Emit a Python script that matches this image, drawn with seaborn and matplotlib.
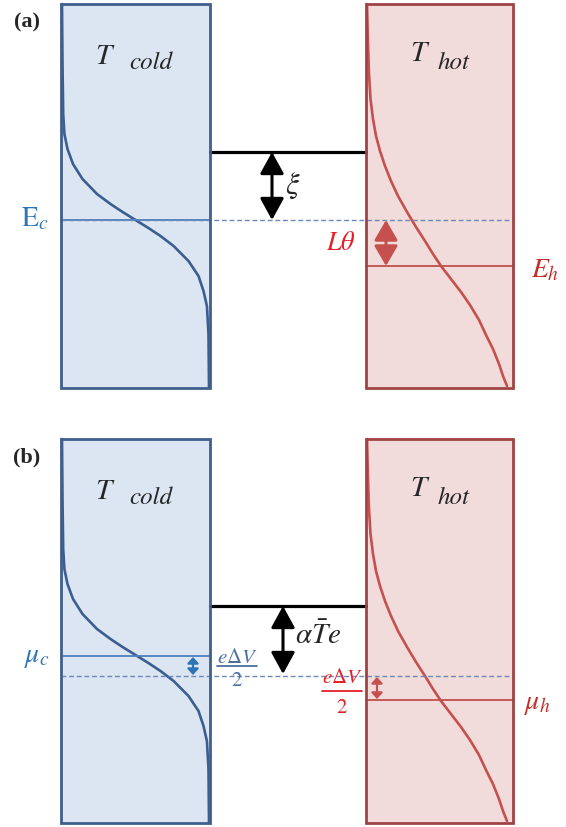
import numpy as np
import matplotlib
matplotlib.use("Agg")
import matplotlib.pyplot as plt
import seaborn as sns
from matplotlib.patches import Rectangle, FancyArrowPatch

sns.set_theme(style="white")
plt.rcParams['mathtext.fontset'] = 'stix'

# colours
COLD_FILL = '#DCE6F2'
COLD_EDGE = '#3F5F8C'
COLD_CURVE = '#3B5D90'
COLD_LINE = '#4A7FC0'
COLD_TEXT = '#2E75B6'
HOT_FILL = '#F2DCDB'
HOT_EDGE = '#A04443'
HOT_CURVE = '#C5504E'
HOT_LINE = '#C0504D'
HOT_TEXT = '#C0302B'
RED_TEXT = '#E4202A'
DASH_COL = '#6C87BC'

# geometry of the two panels (pixel units of the 566x828 picture)
panel_labels = ['(a)', '(b)']
panel_top = [5, 440]
box_height = 384
cold_x = [61, 210]
hot_x = [366, 513]
black_level = [153, 607]
cold_level = [221, 657]
dash_level = [221, 677]
hot_level = [267, 701]

# occupation curves (offset from box left, offset from box top)
cold_curve_dx = [1, 1.5, 2.2, 3.4, 6.5, 12, 21.5, 36, 49.5, 61.6, 74.5,
                 87.4, 99.5, 112.6, 127.5, 137.5, 142.5, 145.9, 147.5, 148]
cold_curve_dy = [0, 60, 110, 130, 145, 160, 175, 190, 200, 208, 216,
                 224, 232, 242, 257, 272, 287, 302, 330, 383]
hot_curve_dx = [1, 2, 3, 4.5, 7, 10, 14, 19, 25, 32, 41, 50, 59, 67, 75,
                85, 95, 104, 113, 120, 127, 133, 137, 141]
hot_curve_dy = [0, 40, 70, 95, 115, 132, 147, 162, 177, 192, 208, 223, 237, 250, 262,
                275, 288, 301, 316, 331, 345, 360, 372, 382]

fig = plt.figure(figsize=(5.66, 8.28), dpi=100)
ax = fig.add_axes([0, 0, 1, 1])
ax.set_xlim(0, 566)
ax.set_ylim(828, 0)
ax.axis('off')


def double_arrow(x, y0, y1, color, hl, hw, lw, scale):
    arr = FancyArrowPatch((x, y0), (x, y1),
                          arrowstyle=f'<|-|>,head_length={hl},head_width={hw}',
                          mutation_scale=scale, color=color, lw=lw,
                          shrinkA=0, shrinkB=0, zorder=6)
    ax.add_patch(arr)


def fraction(xc, y_num, y_bar, y_den, half, color):
    ax.text(xc, y_num, r'$e\Delta V$', fontsize=15, color=color, ha='center', va='center', zorder=7)
    ax.plot([xc - half, xc + half], [y_bar] * 2, color=color, lw=1.3, zorder=7)
    ax.text(xc, y_den, r'$2$', fontsize=15, color=color, ha='center', va='center', zorder=7)


for i in range(2):
    top = panel_top[i]

    # reservoirs
    ax.add_patch(Rectangle((cold_x[0], top), cold_x[1] - cold_x[0], box_height,
                           facecolor=COLD_FILL, edgecolor='none', zorder=1))
    ax.add_patch(Rectangle((hot_x[0], top), hot_x[1] - hot_x[0], box_height,
                           facecolor=HOT_FILL, edgecolor='none', zorder=1))

    # Fermi functions
    sns.lineplot(x=np.array(cold_curve_dx) + cold_x[0], y=np.array(cold_curve_dy) + top,
                 sort=False, estimator=None, color=COLD_CURVE, lw=1.9, ax=ax, zorder=3)
    sns.lineplot(x=np.array(hot_curve_dx) + hot_x[0], y=np.array(hot_curve_dy) + top,
                 sort=False, estimator=None, color=HOT_CURVE, lw=1.9, ax=ax, zorder=3)

    # levels
    ax.plot([cold_x[1], hot_x[0]], [black_level[i]] * 2, color='black', lw=2.3, zorder=4)
    ax.plot(cold_x, [cold_level[i]] * 2, color=COLD_LINE, lw=1.3, zorder=4)
    ax.plot([cold_x[0], hot_x[1]], [dash_level[i]] * 2, color=DASH_COL, lw=1.0,
            ls=(0, (3.5, 2)), zorder=4)
    ax.plot(hot_x, [hot_level[i]] * 2, color=HOT_LINE, lw=1.3, zorder=4)

    # borders
    ax.add_patch(Rectangle((cold_x[0], top), cold_x[1] - cold_x[0], box_height,
                           facecolor='none', edgecolor=COLD_EDGE, lw=2.0, zorder=5))
    ax.add_patch(Rectangle((hot_x[0], top), hot_x[1] - hot_x[0], box_height,
                           facecolor='none', edgecolor=HOT_EDGE, lw=2.0, zorder=5))

    # temperatures
    ax.text(103, top + 52, 'T', fontsize=21, family='STIXGeneral', style='italic',
            ha='center', va='center', zorder=7)
    ax.text(151, top + 58, 'cold', fontsize=18, family='STIXGeneral', style='italic',
            ha='center', va='center', zorder=7)
    ax.text(418, top + 49, 'T', fontsize=21, family='STIXGeneral', style='italic',
            ha='center', va='center', zorder=7)
    ax.text(454, top + 58, 'hot', fontsize=18, family='STIXGeneral', style='italic',
            ha='center', va='center', zorder=7)

    ax.text(27, top + 17, panel_labels[i], fontsize=16, family='Liberation Serif',
            weight='bold', ha='center', va='center')

# panel (a)
double_arrow(272, black_level[0], dash_level[0], 'black', 0.95, 0.52, 2.2, 14)
ax.text(293, 186, r'$\xi$', fontsize=22, ha='center', va='center')
double_arrow(386, dash_level[0], hot_level[0], HOT_CURVE, 0.95, 0.55, 2.2, 13)
ax.text(341, 243, r'$L\theta$', fontsize=19, color=RED_TEXT, ha='center', va='center')
ax.text(35, 218, r'$\mathrm{E}_{c}$', fontsize=20, color=COLD_TEXT, ha='center', va='center')
ax.text(545, 269, r'$E_h$', fontsize=20, color=HOT_TEXT, ha='center', va='center')

# panel (b)
double_arrow(283, black_level[1], dash_level[1] - 2, 'black', 0.95, 0.52, 2.2, 14)
ax.text(318, 636, r'$\alpha\bar{T}e$', fontsize=21, ha='center', va='center')
double_arrow(193, cold_level[1] + 1, dash_level[1] - 1, '#2E75B6', 0.6, 0.55, 1.6, 6)
double_arrow(377, dash_level[1] + 1, hot_level[1] - 1, HOT_CURVE, 0.6, 0.55, 1.6, 6)
fraction(237, 657, 667, 680, 20, '#4F6FA0')
fraction(342, 677, 692, 707, 20, RED_TEXT)
ax.text(37, 656, r'$\mu_c$', fontsize=20, color=COLD_TEXT, ha='center', va='center')
ax.text(537, 703, r'$\mu_h$', fontsize=20, color=HOT_TEXT, ha='center', va='center')

fig.savefig('out.png', dpi=100, facecolor='white')
